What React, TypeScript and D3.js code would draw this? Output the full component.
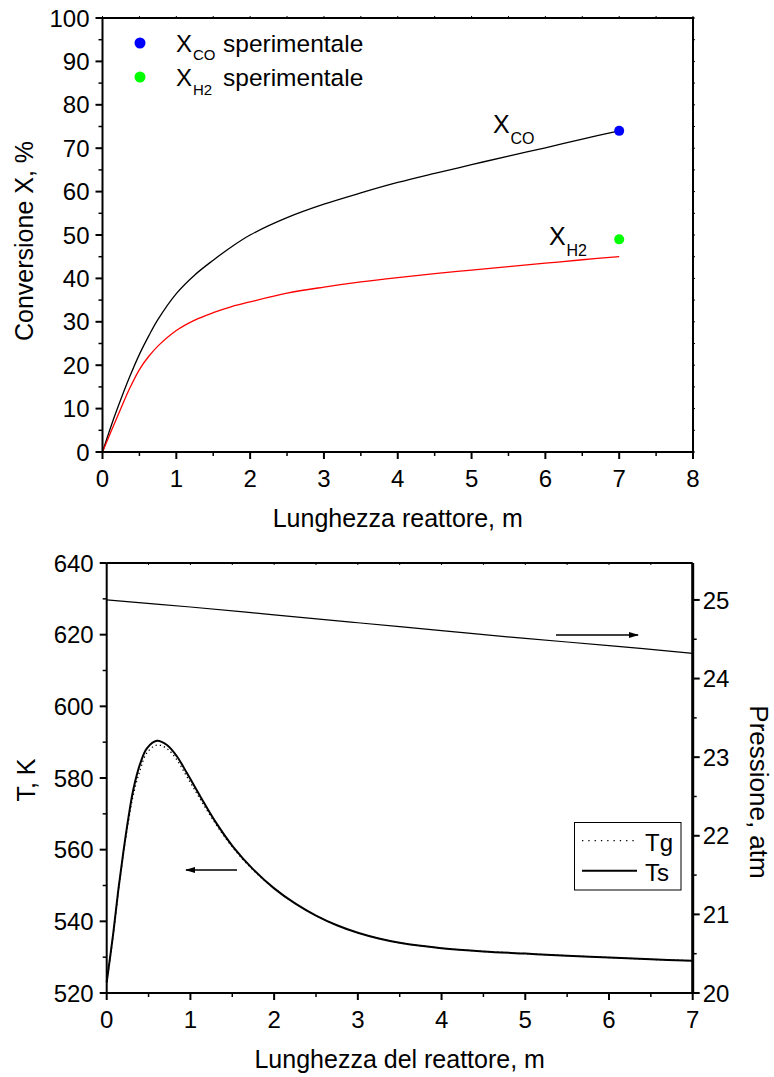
import React from 'react';
import * as d3 from 'd3';

// ---------- Top chart data ----------
const lengthTop = [0, 0.125, 0.25, 0.375, 0.5, 0.625, 0.75, 1, 1.25, 1.5, 1.75, 2, 2.5, 3, 3.5, 4, 4.5, 5, 5.5, 6, 6.5, 7];
const xCO = [0, 6.4, 12.2, 17.6, 22.5, 26.7, 30.5, 36.5, 40.8, 44.2, 47.3, 50, 54, 57.1, 59.7, 62.1, 64.2, 66.2, 68.2, 70.1, 72.1, 74];
const xH2 = [0, 5.1, 10.1, 14.9, 19, 22, 24.4, 28, 30.4, 32.1, 33.5, 34.6, 36.6, 38, 39.2, 40.2, 41.1, 41.9, 42.7, 43.5, 44.3, 45];
const expLength = [7];
const expCO = [74];
const expH2 = [49];
const topXTicks = [0, 1, 2, 3, 4, 5, 6, 7, 8];
const topYTicks = [0, 10, 20, 30, 40, 50, 60, 70, 80, 90, 100];

// ---------- Bottom chart data ----------
const lengthBottom = [0, 0.08, 0.14, 0.2, 0.26, 0.32, 0.4, 0.48, 0.6, 0.72, 0.84, 0.96, 1.12, 1.31, 1.51, 1.75, 2, 2.25, 2.5, 2.75, 3, 3.25, 3.5, 4, 4.5, 5, 5.5, 6, 6.5, 7];
const Ts = [523, 537, 549, 559.5, 569, 577, 584, 588.3, 590.4, 589.2, 586, 581.3, 574.8, 567.4, 560.8, 554.5, 549.2, 545, 541.6, 538.9, 536.8, 535.2, 534, 532.5, 531.6, 531, 530.4, 529.9, 529.4, 529];
const Tg = [523, 536.5, 548.5, 559, 568, 575.5, 582.3, 587, 589.2, 588.2, 585, 580.3, 574, 566.9, 560.5, 554.3, 549.2, 545, 541.6, 538.9, 536.8, 535.2, 534, 532.5, 531.6, 531, 530.4, 529.9, 529.4, 529];
const lengthP = [0, 1, 2, 3, 4, 5, 6, 7];
const pressure = [25.0, 24.91, 24.81, 24.71, 24.61, 24.51, 24.42, 24.32];
const bottomXTicks = [0, 1, 2, 3, 4, 5, 6, 7];
const tempTicks = [520, 540, 560, 580, 600, 620, 640];
const presTicks = [20, 21, 22, 23, 24, 25];

const FONT = '"Liberation Sans", Arial, Helvetica, sans-serif';
const TICK = 24;
const TITLE = 25;

export default function App() {
  // scales
  const xT = d3.scaleLinear().domain([0, 8]).range([102.5, 693]);
  const yT = d3.scaleLinear().domain([0, 100]).range([452, 18]);
  const xB = d3.scaleLinear().domain([0, 7]).range([106.7, 692.7]);
  const yB = d3.scaleLinear().domain([520, 640]).range([993, 563]);
  const yP = d3.scaleLinear().domain([20, 25.47]).range([993, 563]);

  const smooth = d3.curveCatmullRom.alpha(0.5);
  const lineTop = (ys: number[]) =>
    d3.line<number>().x((_, i) => xT(lengthTop[i])).y((d) => yT(d)).curve(smooth)(ys) || '';
  const lineB = (ys: number[]) =>
    d3.line<number>().x((_, i) => xB(lengthBottom[i])).y((d) => yB(d)).curve(smooth)(ys) || '';
  const lineP =
    d3.line<number>().x((_, i) => xB(lengthP[i])).y((d) => yP(d)).curve(smooth)(pressure) || '';

  const topXMinor = d3.range(0.5, 8, 1);
  const topYMinor = d3.range(5, 100, 10);
  const botXMinor = d3.range(0.5, 7, 1);
  const tempMinor = d3.range(530, 640, 20);
  const presMinor = d3.range(20.5, 25.47, 1);

  const [tx0, tx1] = xT.range();
  const [ty0, ty1] = yT.range(); // ty0 bottom, ty1 top
  const [bx0, bx1] = xB.range();
  const [by0, by1] = yB.range();

  return (
    <svg width={774} height={1077} style={{ position: 'absolute', left: 0, top: 0, background: '#fff' }} fontFamily={FONT}>
      <defs>
        <marker id="ah" markerWidth="10" markerHeight="8" refX="9" refY="4" orient="auto" markerUnits="userSpaceOnUse">
          <path d="M0,1 L10,4 L0,7 Z" fill="#000" />
        </marker>
      </defs>

      {/* ================= TOP CHART ================= */}
      <g>
        <path d={lineTop(xCO)} fill="none" stroke="#000" strokeWidth={1.3} />
        <path d={lineTop(xH2)} fill="none" stroke="#ff0000" strokeWidth={1.3} />
        {expLength.map((L, i) => (
          <circle key={'co' + i} cx={xT(L)} cy={yT(expCO[i])} r={5} fill="#0000ff" />
        ))}
        {expLength.map((L, i) => (
          <circle key={'h2' + i} cx={xT(L)} cy={yT(expH2[i])} r={5} fill="#00ff00" />
        ))}

        <rect x={tx0} y={ty1} width={tx1 - tx0} height={ty0 - ty1} fill="none" stroke="#000" strokeWidth={2} />

        {topYTicks.map((t) => (
          <g key={'ty' + t}>
            <line x1={tx0 - 7} x2={tx0} y1={yT(t)} y2={yT(t)} stroke="#000" strokeWidth={2} />
            <line x1={tx1} x2={tx1 + 2} y1={yT(t)} y2={yT(t)} stroke="#000" strokeWidth={1} />
            <text x={tx0 - 13} y={yT(t)} dy="0.36em" textAnchor="end" fontSize={TICK}>{t}</text>
          </g>
        ))}
        {topYMinor.map((t) => (
          <g key={'tym' + t}>
            <line x1={tx0 - 4} x2={tx0} y1={yT(t)} y2={yT(t)} stroke="#000" strokeWidth={1.5} />
            <line x1={tx1} x2={tx1 + 2} y1={yT(t)} y2={yT(t)} stroke="#000" strokeWidth={1} />
          </g>
        ))}
        {topXTicks.map((t) => (
          <g key={'tx' + t}>
            <line x1={xT(t)} x2={xT(t)} y1={ty0} y2={ty0 + 7} stroke="#000" strokeWidth={2} />
            <line x1={xT(t)} x2={xT(t)} y1={ty1} y2={ty1 - 2} stroke="#000" strokeWidth={1} />
            <text x={xT(t)} y={487} textAnchor="middle" fontSize={TICK}>{t}</text>
          </g>
        ))}
        {topXMinor.map((t) => (
          <g key={'txm' + t}>
            <line x1={xT(t)} x2={xT(t)} y1={ty0} y2={ty0 + 4} stroke="#000" strokeWidth={1.5} />
            <line x1={xT(t)} x2={xT(t)} y1={ty1} y2={ty1 - 2} stroke="#000" strokeWidth={1} />
          </g>
        ))}

        <text x={(tx0 + tx1) / 2} y={527} textAnchor="middle" fontSize={TITLE}>Lunghezza reattore, m</text>
        <text transform={`translate(33,${(ty0 + ty1) / 2 + 6}) rotate(-90)`} textAnchor="middle" fontSize={TITLE}>
          Conversione X, %
        </text>

        {/* legend */}
        <circle cx={140} cy={43} r={5.5} fill="#0000ff" />
        <circle cx={140} cy={77} r={5.5} fill="#00ff00" />
        <text x={176} y={52} fontSize={24}>X</text>
        <text x={193} y={60} fontSize={15}>CO</text>
        <text x={223} y={52} fontSize={24.5}>sperimentale</text>
        <text x={176} y={86} fontSize={24}>X</text>
        <text x={193} y={94.5} fontSize={15}>H2</text>
        <text x={223} y={86} fontSize={24.5}>sperimentale</text>

        {/* curve labels */}
        <text x={493} y={133} fontSize={25}>X</text>
        <text x={510.5} y={144} fontSize={16}>CO</text>
        <text x={549} y={245} fontSize={25}>X</text>
        <text x={566.5} y={255.5} fontSize={16}>H2</text>
      </g>

      {/* ================= BOTTOM CHART ================= */}
      <g>
        <path d={lineP} fill="none" stroke="#000" strokeWidth={1.2} />
        <path d={lineB(Tg)} fill="none" stroke="#000" strokeWidth={1.3} strokeDasharray="1.3,3" />
        <path d={lineB(Ts)} fill="none" stroke="#000" strokeWidth={2} />

        <line x1={556} x2={638} y1={635} y2={635} stroke="#000" strokeWidth={1.3} markerEnd="url(#ah)" />
        <line x1={237} x2={186} y1={870} y2={870} stroke="#000" strokeWidth={1.3} markerEnd="url(#ah)" />

        <line x1={bx0} x2={bx1} y1={by1} y2={by1} stroke="#000" strokeWidth={2} />
        <line x1={bx0} x2={bx1} y1={by0} y2={by0} stroke="#000" strokeWidth={2} />
        <line x1={bx0} x2={bx0} y1={by1} y2={by0} stroke="#000" strokeWidth={2} />
        <line x1={bx1} x2={bx1} y1={by1} y2={by0} stroke="#000" strokeWidth={3} />

        {tempTicks.map((t) => (
          <g key={'bt' + t}>
            <line x1={bx0 - 7} x2={bx0} y1={yB(t)} y2={yB(t)} stroke="#000" strokeWidth={2} />
            <text x={bx0 - 13} y={yB(t)} dy="0.36em" textAnchor="end" fontSize={TICK}>{t}</text>
          </g>
        ))}
        {tempMinor.map((t) => (
          <line key={'btm' + t} x1={bx0 - 4} x2={bx0} y1={yB(t)} y2={yB(t)} stroke="#000" strokeWidth={1.5} />
        ))}
        {presTicks.map((t) => (
          <g key={'bp' + t}>
            <line x1={bx1} x2={bx1 + 7} y1={yP(t)} y2={yP(t)} stroke="#000" strokeWidth={2} />
            <text x={bx1 + 10} y={yP(t)} dy="0.36em" textAnchor="start" fontSize={TICK}>{t}</text>
          </g>
        ))}
        {presMinor.map((t) => (
          <line key={'bpm' + t} x1={bx1} x2={bx1 + 4} y1={yP(t)} y2={yP(t)} stroke="#000" strokeWidth={1.5} />
        ))}
        {bottomXTicks.map((t) => (
          <g key={'bx' + t}>
            <line x1={xB(t)} x2={xB(t)} y1={by0} y2={by0 + 7} stroke="#000" strokeWidth={2} />
            <line x1={xB(t)} x2={xB(t)} y1={by1} y2={by1 + 2} stroke="#000" strokeWidth={1} />
            <text x={xB(t)} y={1028} textAnchor="middle" fontSize={TICK}>{t}</text>
          </g>
        ))}
        {botXMinor.map((t) => (
          <g key={'bxm' + t}>
            <line x1={xB(t)} x2={xB(t)} y1={by0} y2={by0 + 4} stroke="#000" strokeWidth={1.5} />
            <line x1={xB(t)} x2={xB(t)} y1={by1} y2={by1 + 2} stroke="#000" strokeWidth={1} />
          </g>
        ))}

        <text x={(bx0 + bx1) / 2} y={1068} textAnchor="middle" fontSize={TITLE}>Lunghezza del reattore, m</text>
        <text transform={`translate(35,780) rotate(-90)`} textAnchor="middle" fontSize={TITLE}>T, K</text>
        <text transform={`translate(750,792) rotate(90)`} textAnchor="middle" fontSize={26}>Pressione, atm</text>

        <rect x={574.5} y={822.5} width={106.5} height={67.5} fill="#fff" stroke="#000" strokeWidth={1} />
        <line x1={582} x2={637} y1={840.7} y2={840.7} stroke="#000" strokeWidth={1.3} strokeDasharray="1.3,5" />
        <line x1={582} x2={637} y1={870.7} y2={870.7} stroke="#000" strokeWidth={2} />
        <text x={645} y={851} fontSize={24}>Tg</text>
        <text x={645} y={881} fontSize={24}>Ts</text>
      </g>
    </svg>
  );
}
